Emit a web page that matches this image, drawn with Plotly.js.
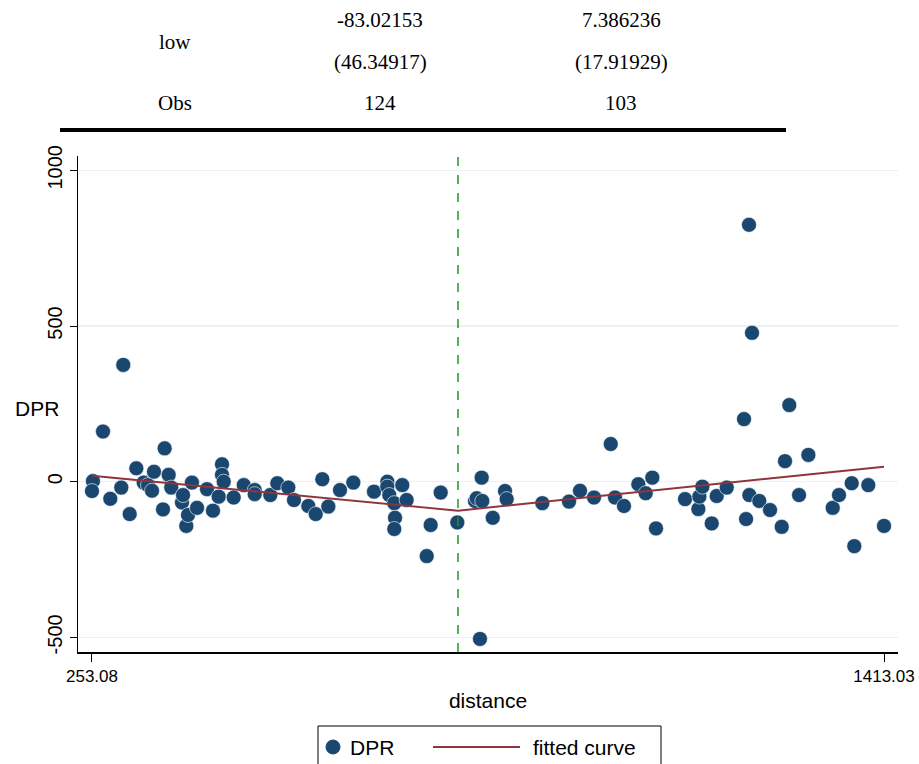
<!DOCTYPE html>
<html>
<head>
<meta charset="utf-8">
<script src="https://cdn.plot.ly/plotly-3.0.1.min.js"></script>
<style>
html,body{margin:0;padding:0;background:#fff;}
#chart{width:919px;height:764px;}
</style>
</head>
<body>
<div id="chart"></div>
<script>
// Scatter data (distance vs DPR)
const distance = [
  254.5, 253.08, 269.2, 279.9, 296.0, 298.9, 308.3, 318.0, 328.8, 335.1,
  341.0, 343.9, 357.1, 359.5, 365.4, 369.2, 384.9, 386.4, 391.2, 393.7,
  399.5, 406.9, 421.5, 430.3, 438.6, 443.5, 443.5, 446.0, 460.6, 475.3,
  491.4, 491.4, 514.2, 524.5, 540.6, 548.9, 569.9, 580.7, 590.4, 599.2,
  616.3, 635.8, 666.1, 685.6, 685.6, 688.5, 695.8, 696.9, 695.8, 707.5,
  713.9, 743.3, 749.1, 763.8, 788.1,
  814.0, 816.5, 821.3, 823.8, 824.7, 840.0, 858.0, 860.4, 912.6, 951.7,
  967.8, 988.3, 1012.8, 1019.1, 1032.2, 1053.2, 1064.0, 1073.7, 1079.1, 1121.6,
  1141.1, 1142.6, 1147.0, 1160.7, 1168.0, 1182.7, 1208.0, 1211.0, 1215.3, 1215.8,
  1219.7, 1230.4, 1246.1, 1263.2, 1268.0, 1274.3, 1288.6, 1302.2, 1337.9, 1347.1,
  1365.7, 1369.5, 1390.0, 1413.03
];
const dpr = [
  2, -30, 161, -55, -19, 375, -104, 43, -3, -11,
  -29, 32, -89, 107, 22, -19, -67, -43, -142, -107,
  -3, -84, -24, -93, -48, 56, 22, 0, -51, -11,
  -27, -40, -43, -5, -19, -59, -78, -104, 8, -80,
  -27, -3, -32, 0, -16, -43, -69, -116, -152, -11,
  -59, -239, -139, -35, -131,
  -62, -53, -505, 13, -62, -116, -30, -56, -69, -64,
  -29, -51, 121, -51, -78, -8, -37, 13, -150, -56,
  -88, -48, -16, -134, -46, -19, 201, -120, 825, -43,
  478, -62, -91, -145, 66, 246, -43, 86, -84, -43,
  -5, -207, -11, -142
];
// Fitted curve (piecewise linear around the cutoff)
const fitX = [253.08, 789.1, 1413.03];
const fitY = [19, -93, 48];
const cutoff = 789.1;

// Table texts
const rowLabels = ["low", "Obs"];
const col1 = ["-83.02153", "(46.34917)", "124"];
const col2 = ["7.386236", "(17.91929)", "103"];
const xTicks = [253.08, 1413.03];
const xTickText = ["253.08", "1413.03"];
const yTicks = [-500, 0, 500, 1000];
const legendNames = ["DPR", "fitted curve"];

const serif = "Liberation Serif, Times New Roman, serif";
const sans = "Liberation Sans, Arial, sans-serif";
const tableFont = {family: serif, size: 21, color: "#000"};
const markerColor = "#1a476f";
const lineColor = "#90353b";

// pixel -> paper helpers (plot area: x 78..898, y 156..652)
const px = p => (p - 78) / 820;
const py = p => (652 - p) / 496;

const annotations = [];
function tAnn(text, x, y, anchor, font) {
  annotations.push({text: text, xref: "paper", yref: "paper",
    x: px(x), y: py(y), showarrow: false,
    xanchor: anchor || "center", yanchor: "middle", font: font || tableFont});
}
tAnn(rowLabels[0], 175, 42);
tAnn(rowLabels[1], 175, 103);
tAnn(col1[0], 380, 20); tAnn(col1[1], 380, 62); tAnn(col1[2], 380, 103);
tAnn(col2[0], 621, 20); tAnn(col2[1], 621, 62); tAnn(col2[2], 621, 103);
tAnn("DPR", 37, 408, "center", {family: sans, size: 21, color: "#000"});
// legend texts
const legFont = {family: sans, size: 21, color: "#000"};
tAnn(legendNames[0], 348, 747, "left", legFont);
tAnn(legendNames[1], 531, 747, "left", legFont);

const traces = [
  {x: distance, y: dpr, type: "scatter", mode: "markers", name: legendNames[0],
   marker: {color: markerColor, size: 15, line: {color: "#ffffff", width: 0.6}}},
  {x: fitX, y: fitY, type: "scatter", mode: "lines", name: legendNames[1],
   line: {color: lineColor, width: 2}}
];

const layout = {
  width: 919, height: 764,
  margin: {l: 78, r: 21, t: 156, b: 112},
  paper_bgcolor: "#ffffff", plot_bgcolor: "#ffffff",
  showlegend: false,
  xaxis: {range: [232.6, 1433.5], tickvals: xTicks, ticktext: xTickText,
    showgrid: false, zeroline: false, showline: true, linecolor: "#000", linewidth: 1.5,
    ticks: "outside", ticklen: 8, tickcolor: "#000",
    tickfont: {family: sans, size: 17, color: "#000"},
    title: {text: "distance", font: {family: sans, size: 21, color: "#000"}, standoff: 8}},
  yaxis: {range: [-547, 1046], tickvals: yTicks, ticktext: yTicks.map(String),
    tickangle: -90, showgrid: true, gridcolor: "#eaf2f3", gridwidth: 1.5,
    zeroline: false, showline: true, linecolor: "#000", linewidth: 1.5,
    ticks: "outside", ticklen: 7, tickcolor: "#000",
    tickfont: {family: sans, size: 20, color: "#000"}},
  shapes: [
    {type: "line", xref: "x", yref: "paper", x0: cutoff, x1: cutoff, y0: 0, y1: 1,
     line: {color: "#1f9a1f", width: 1.5, dash: "dash"}},
    {type: "line", xref: "paper", yref: "paper", x0: px(60), x1: px(786),
     y0: py(130), y1: py(130), line: {color: "#000", width: 4}},
    // manual legend (box cut by the bottom edge as in the reference)
    {type: "rect", xref: "paper", yref: "paper", x0: px(318), x1: px(661),
     y0: py(726), y1: py(790), line: {color: "#000", width: 1}, fillcolor: "rgba(0,0,0,0)"},
    {type: "circle", xref: "paper", yref: "paper", x0: px(326), x1: px(340),
     y0: py(740), y1: py(754), line: {color: markerColor, width: 1}, fillcolor: markerColor},
    {type: "line", xref: "paper", yref: "paper", x0: px(433), x1: px(520),
     y0: py(747), y1: py(747), line: {color: lineColor, width: 2}}
  ],
  annotations: annotations
};

Plotly.newPlot("chart", traces, layout, {displayModeBar: false, staticPlot: true});
</script>
</body>
</html>
